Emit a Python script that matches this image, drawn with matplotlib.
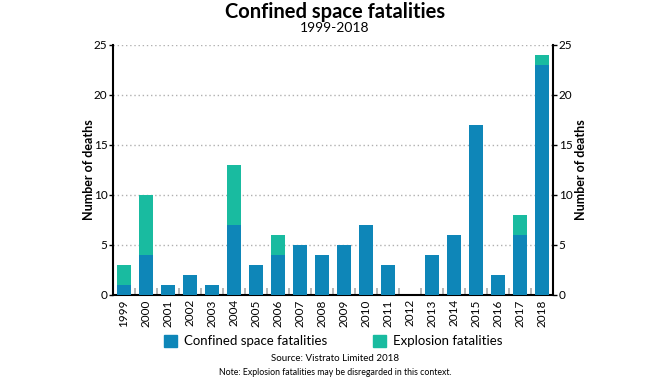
import numpy as np
import matplotlib
matplotlib.use("Agg")
import matplotlib.pyplot as plt
from matplotlib.patches import Patch

plt.rcParams['font.family'] = ['Lato', 'DejaVu Sans']

years = [str(y) for y in range(1999, 2019)]
confined = [1, 4, 1, 2, 1, 7, 3, 4, 5, 4, 5, 7, 3, 0, 4, 6, 17, 2, 6, 23]
explosion = [2, 6, 0, 0, 0, 6, 0, 2, 0, 0, 0, 0, 0, 0, 0, 0, 0, 0, 2, 1]

blue = "#0e86b8"
teal = "#19bba0"

fig = plt.figure(figsize=(6.7, 3.8), dpi=100)
ax = fig.add_axes([0.1687, 0.2237, 0.6567, 0.6579])

x = np.arange(len(years))
ax.bar(x, confined, width=0.65, color=blue, zorder=3)
ax.bar(x, explosion, width=0.65, bottom=confined, color=teal, zorder=3)

ax.set_xlim(-0.5, len(years) - 0.5)
ax.set_ylim(0, 25)
ax.set_yticks([0, 5, 10, 15, 20, 25])
ax.yaxis.grid(True, linestyle=(0, (1, 2)), color="#b0b0b0", linewidth=1.0, zorder=0)

ax.set_xticks(x)
ax.set_xticklabels(years, rotation=90, fontsize=8.5)
ax.set_xticks(x[1:] - 0.5, minor=True)
ax.tick_params(axis="x", which="major", length=0, pad=3)
ax.tick_params(axis="x", which="minor", direction="in", length=5, color="#aaaaaa", width=1.2)
ax.tick_params(axis="y", length=3, width=1, direction="out", labelsize=8.5, pad=1)

for s in ["top", "right"]:
    ax.spines[s].set_visible(False)
for s in ["left", "bottom"]:
    ax.spines[s].set_linewidth(1.5)
ax.set_ylabel("Number of deaths", fontsize=9, fontweight="bold", labelpad=-1)

ax2 = ax.twinx()
ax2.set_ylim(0, 25)
ax2.set_yticks([0, 5, 10, 15, 20, 25])
ax2.tick_params(axis="y", length=3, width=1, labelsize=8.5, pad=1)
for s in ["top", "left", "bottom"]:
    ax2.spines[s].set_visible(False)
ax2.spines["right"].set_linewidth(1.5)
ax2.set_ylabel("Number of deaths", fontsize=9, fontweight="bold", labelpad=2)

fig.text(0.5, 0.968, "Confined space fatalities", ha="center", va="center",
         fontsize=14.5, fontweight="bold")
fig.text(0.5, 0.925, "1999-2018", ha="center", va="center", fontsize=10)

handles = [Patch(color=blue), Patch(color=teal)]
fig.legend(handles, ["Confined space fatalities", "Explosion fatalities"],
           loc="center", bbox_to_anchor=(0.497, 0.102), ncol=2, frameon=False,
           fontsize=9.5, handlelength=1.0, handleheight=1.0, columnspacing=3.5,
           handletextpad=0.5)

fig.text(0.5, 0.057, "Source: Vistrato Limited 2018", ha="center", va="center", fontsize=7)
fig.text(0.5, 0.021, "Note: Explosion fatalities may be disregarded in this context.",
         ha="center", va="center", fontsize=6.3)

plt.savefig("out.png", dpi=100)
